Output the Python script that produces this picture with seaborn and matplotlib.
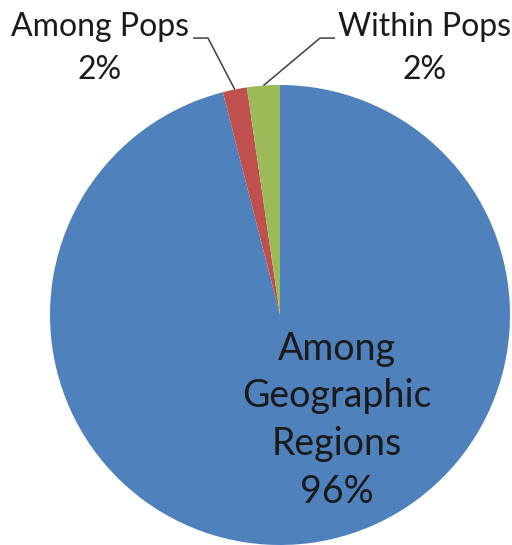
import matplotlib
matplotlib.use("Agg")
import matplotlib.pyplot as plt
import seaborn as sns
import numpy as np

# Partition of genetic variance (AMOVA), percent
components = ["Among Geographic Regions", "Among Pops", "Within Pops"]
variance_pct = [96.0, 1.7, 2.3]
palette = ["#4F81BD", "#C0504D", "#9BBB59"]

sns.set_theme(style="white")
plt.rcParams["font.family"] = ["Lato", "DejaVu Sans"]
text_color = "#1a1a1a"

fig = plt.figure(figsize=(5.12, 5.45), dpi=100)
ax = fig.add_axes([50 / 512, 0.0, 460 / 512, 460 / 545])
ax.axis("off")

colors = sns.color_palette(palette)
wedges, _ = ax.pie(variance_pct, colors=colors, startangle=90, counterclock=False,
                   radius=1.0, center=(0, 0), frame=False,
                   wedgeprops=dict(linewidth=0))
ax.set_xlim(-1, 1)
ax.set_ylim(-1, 1)

# Big slice label inside the pie
ax.text(0.248, -0.457,
        "Among\nGeographic\nRegions\n" + f"{variance_pct[0]:.0f}%",
        ha="center", va="center", fontsize=27, color=text_color,
        linespacing=1.40)

# Small slices: labels above the pie with leader lines
def leader(wedge, elbow_x, end_x, y, tx, label, value):
    ang = np.deg2rad((wedge.theta1 + wedge.theta2) / 2)
    px, py = np.cos(ang), np.sin(ang)
    ax.plot([px, elbow_x, end_x], [py, y, y], color="#404040", lw=1.1,
            clip_on=False, solid_capstyle="butt")
    ax.text(tx, 1.250, label, ha="center", va="center", fontsize=23,
            color=text_color, clip_on=False)
    ax.text(tx, 1.065, f"{value:.0f}%", ha="center", va="center", fontsize=23,
            color=text_color, clip_on=False)

leader(wedges[1], -0.313, -0.378, 1.204, -0.783, components[1], variance_pct[1])
leader(wedges[2], 0.174, 0.239, 1.204, 0.630, components[2], variance_pct[2])

fig.savefig("out.png", dpi=100)
